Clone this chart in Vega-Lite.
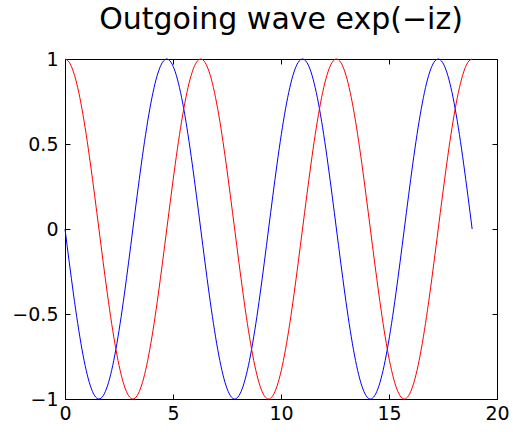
{
  "$schema": "https://vega.github.io/schema/vega-lite/v6.json",
  "width": 432,
  "height": 340,
  "autosize": {"type": "none"},
  "padding": {"left": 65, "top": 59, "right": 16, "bottom": 33},
  "background": "white",
  "title": {"text": "Outgoing wave exp(−iz)", "font": "DejaVu Sans", "fontSize": 30, "fontWeight": "normal", "color": "black", "anchor": "middle", "baseline": "bottom", "offset": -15},
  "config": {
    "view": {"stroke": "black", "strokeWidth": 1},
    "axis": {"labelFont": "DejaVu Sans", "labelFontSize": 19, "labelColor": "black", "domainColor": "black", "tickColor": "black", "grid": false, "title": null, "tickSize": -5, "domainWidth": 1, "tickWidth": 1}
  },
  "data": {"values": [
    {"z":0,"re":1,"im":0},
    {"z":0.1963,"re":0.9808,"im":-0.1951},
    {"z":0.3927,"re":0.9239,"im":-0.3827},
    {"z":0.5890,"re":0.8315,"im":-0.5556},
    {"z":0.7854,"re":0.7071,"im":-0.7071},
    {"z":0.9817,"re":0.5556,"im":-0.8315},
    {"z":1.1781,"re":0.3827,"im":-0.9239},
    {"z":1.3744,"re":0.1951,"im":-0.9808},
    {"z":1.5708,"re":0,"im":-1},
    {"z":1.7671,"re":-0.1951,"im":-0.9808},
    {"z":1.9635,"re":-0.3827,"im":-0.9239},
    {"z":2.1598,"re":-0.5556,"im":-0.8315},
    {"z":2.3562,"re":-0.7071,"im":-0.7071},
    {"z":2.5525,"re":-0.8315,"im":-0.5556},
    {"z":2.7489,"re":-0.9239,"im":-0.3827},
    {"z":2.9452,"re":-0.9808,"im":-0.1951},
    {"z":3.1416,"re":-1,"im":0},
    {"z":3.3379,"re":-0.9808,"im":0.1951},
    {"z":3.5343,"re":-0.9239,"im":0.3827},
    {"z":3.7306,"re":-0.8315,"im":0.5556},
    {"z":3.9270,"re":-0.7071,"im":0.7071},
    {"z":4.1233,"re":-0.5556,"im":0.8315},
    {"z":4.3197,"re":-0.3827,"im":0.9239},
    {"z":4.5160,"re":-0.1951,"im":0.9808},
    {"z":4.7124,"re":0,"im":1},
    {"z":4.9087,"re":0.1951,"im":0.9808},
    {"z":5.1051,"re":0.3827,"im":0.9239},
    {"z":5.3014,"re":0.5556,"im":0.8315},
    {"z":5.4978,"re":0.7071,"im":0.7071},
    {"z":5.6941,"re":0.8315,"im":0.5556},
    {"z":5.8905,"re":0.9239,"im":0.3827},
    {"z":6.0868,"re":0.9808,"im":0.1951},
    {"z":6.2832,"re":1,"im":0},
    {"z":6.4795,"re":0.9808,"im":-0.1951},
    {"z":6.6759,"re":0.9239,"im":-0.3827},
    {"z":6.8722,"re":0.8315,"im":-0.5556},
    {"z":7.0686,"re":0.7071,"im":-0.7071},
    {"z":7.2649,"re":0.5556,"im":-0.8315},
    {"z":7.4613,"re":0.3827,"im":-0.9239},
    {"z":7.6576,"re":0.1951,"im":-0.9808},
    {"z":7.8540,"re":0,"im":-1},
    {"z":8.0503,"re":-0.1951,"im":-0.9808},
    {"z":8.2467,"re":-0.3827,"im":-0.9239},
    {"z":8.4430,"re":-0.5556,"im":-0.8315},
    {"z":8.6394,"re":-0.7071,"im":-0.7071},
    {"z":8.8357,"re":-0.8315,"im":-0.5556},
    {"z":9.0321,"re":-0.9239,"im":-0.3827},
    {"z":9.2284,"re":-0.9808,"im":-0.1951},
    {"z":9.4248,"re":-1,"im":0},
    {"z":9.6211,"re":-0.9808,"im":0.1951},
    {"z":9.8175,"re":-0.9239,"im":0.3827},
    {"z":10.0138,"re":-0.8315,"im":0.5556},
    {"z":10.2102,"re":-0.7071,"im":0.7071},
    {"z":10.4065,"re":-0.5556,"im":0.8315},
    {"z":10.6029,"re":-0.3827,"im":0.9239},
    {"z":10.7992,"re":-0.1951,"im":0.9808},
    {"z":10.9956,"re":0,"im":1},
    {"z":11.1919,"re":0.1951,"im":0.9808},
    {"z":11.3883,"re":0.3827,"im":0.9239},
    {"z":11.5846,"re":0.5556,"im":0.8315},
    {"z":11.7810,"re":0.7071,"im":0.7071},
    {"z":11.9773,"re":0.8315,"im":0.5556},
    {"z":12.1737,"re":0.9239,"im":0.3827},
    {"z":12.3700,"re":0.9808,"im":0.1951},
    {"z":12.5664,"re":1,"im":0},
    {"z":12.7627,"re":0.9808,"im":-0.1951},
    {"z":12.9591,"re":0.9239,"im":-0.3827},
    {"z":13.1554,"re":0.8315,"im":-0.5556},
    {"z":13.3518,"re":0.7071,"im":-0.7071},
    {"z":13.5481,"re":0.5556,"im":-0.8315},
    {"z":13.7445,"re":0.3827,"im":-0.9239},
    {"z":13.9408,"re":0.1951,"im":-0.9808},
    {"z":14.1372,"re":0,"im":-1},
    {"z":14.3335,"re":-0.1951,"im":-0.9808},
    {"z":14.5299,"re":-0.3827,"im":-0.9239},
    {"z":14.7262,"re":-0.5556,"im":-0.8315},
    {"z":14.9226,"re":-0.7071,"im":-0.7071},
    {"z":15.1189,"re":-0.8315,"im":-0.5556},
    {"z":15.3153,"re":-0.9239,"im":-0.3827},
    {"z":15.5116,"re":-0.9808,"im":-0.1951},
    {"z":15.7080,"re":-1,"im":0},
    {"z":15.9043,"re":-0.9808,"im":0.1951},
    {"z":16.1007,"re":-0.9239,"im":0.3827},
    {"z":16.2970,"re":-0.8315,"im":0.5556},
    {"z":16.4934,"re":-0.7071,"im":0.7071},
    {"z":16.6897,"re":-0.5556,"im":0.8315},
    {"z":16.8861,"re":-0.3827,"im":0.9239},
    {"z":17.0824,"re":-0.1951,"im":0.9808},
    {"z":17.2788,"re":0,"im":1},
    {"z":17.4751,"re":0.1951,"im":0.9808},
    {"z":17.6715,"re":0.3827,"im":0.9239},
    {"z":17.8678,"re":0.5556,"im":0.8315},
    {"z":18.0642,"re":0.7071,"im":0.7071},
    {"z":18.2605,"re":0.8315,"im":0.5556},
    {"z":18.4569,"re":0.9239,"im":0.3827},
    {"z":18.6532,"re":0.9808,"im":0.1951},
    {"z":18.8496,"re":1,"im":0}
  ]},
  "transform": [{"fold": ["im", "re"], "as": ["part", "value"]}],
  "layer": [
    {
      "mark": {"type": "line", "strokeWidth": 1, "interpolate": "monotone"},
      "encoding": {
        "x": {"field": "z", "type": "quantitative", "scale": {"domain": [0, 20], "nice": false, "zero": false}, "axis": {"orient": "bottom", "values": [0, 5, 10, 15, 20], "labelPadding": 10, "labelFlush": false}},
        "y": {"field": "value", "type": "quantitative", "scale": {"domain": [-1, 1], "nice": false}, "axis": {"orient": "left", "values": [-1, -0.5, 0, 0.5, 1], "labelPadding": 12, "labelFlush": false, "format": "~g"}},
        "color": {"field": "part", "type": "nominal", "scale": {"domain": ["im", "re"], "range": ["#0000ff", "#ff0000"]}, "legend": null},
        "order": {"field": "z", "type": "quantitative"}
      }
    },
    {
      "mark": {"type": "line", "strokeOpacity": 0},
      "encoding": {
        "x": {"field": "z", "type": "quantitative", "axis": {"orient": "top", "values": [0, 5, 10, 15, 20], "labels": false, "domain": false}},
        "y": {"field": "value", "type": "quantitative", "axis": {"orient": "right", "values": [-1, -0.5, 0, 0.5, 1], "labels": false, "domain": false}},
        "detail": {"field": "part", "type": "nominal"}
      }
    }
  ],
  "resolve": {"axis": {"x": "independent", "y": "independent"}}
}
